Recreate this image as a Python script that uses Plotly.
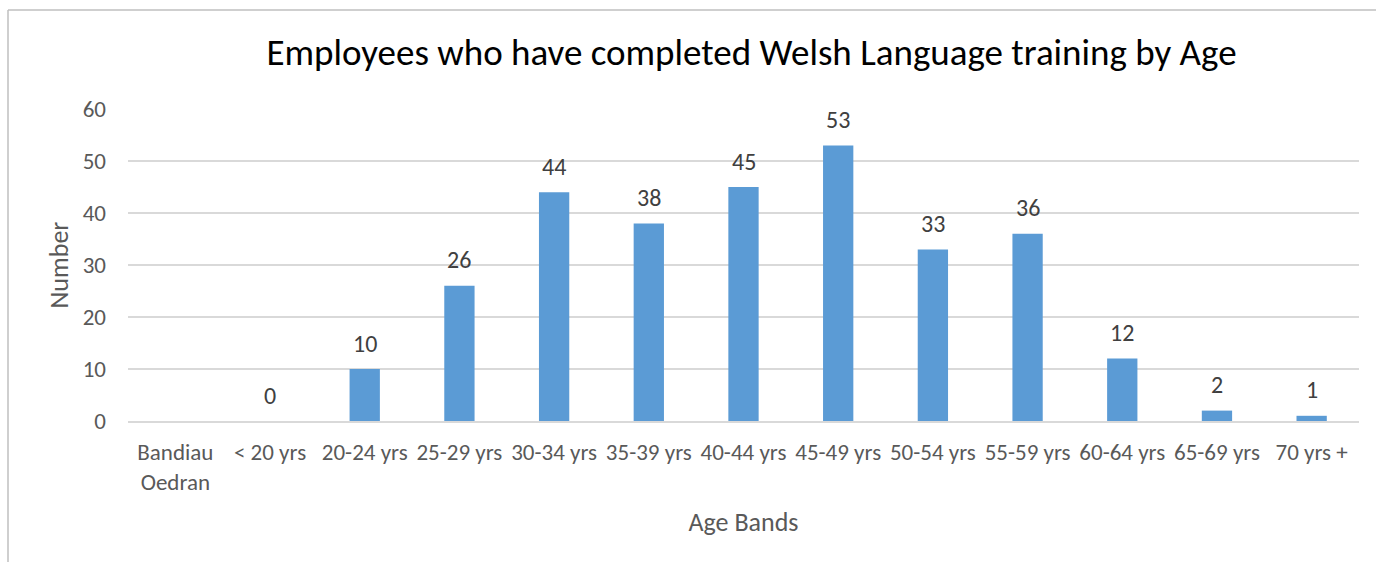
import plotly.graph_objects as go

categories = ["Bandiau<br>Oedran", "< 20 yrs", "20-24 yrs", "25-29 yrs", "30-34 yrs", "35-39 yrs",
              "40-44 yrs", "45-49 yrs", "50-54 yrs", "55-59 yrs", "60-64 yrs", "65-69 yrs", "70 yrs +"]
values = [None, 0, 10, 26, 44, 38, 45, 53, 33, 36, 12, 2, 1]
y_ticks = [0, 10, 20, 30, 40, 50, 60]

FONT = "Carlito, Calibri, Liberation Sans, sans-serif"
W, H = 1376, 562
L, R, T, B = 128, 17, 109, 141
pw, ph = W - L - R, H - T - B

fig = go.Figure()
fig.add_trace(go.Bar(x=categories, y=values, marker=dict(color="#5B9BD5", line=dict(width=0)),
                     hoverinfo="x+y"))

for c, v in zip(categories, values):
    if v is None:
        continue
    fig.add_annotation(x=c, y=v, text=str(v), showarrow=False, yshift=26,
                       font=dict(family=FONT, size=24, color="#404040"))

def px_x(p):
    return (p - L) / pw

def px_y(p):
    return (H - B - p) / ph

fig.add_shape(type="line", xref="paper", yref="paper", x0=px_x(8), x1=px_x(1376), y0=px_y(10), y1=px_y(10),
              line=dict(color="#BFBFBF", width=1.5))
fig.add_shape(type="line", xref="paper", yref="paper", x0=px_x(8), x1=px_x(8), y0=px_y(10), y1=px_y(562),
              line=dict(color="#BFBFBF", width=1.5))

fig.update_layout(
    width=W, height=H,
    margin=dict(l=L, r=R, t=T, b=B, autoexpand=False),
    paper_bgcolor="white", plot_bgcolor="white",
    bargap=0.68,
    showlegend=False,
    title=dict(text="Employees who have completed Welsh Language training by Age",
               x=(263 + 1240) / 2 / W, xanchor="center", y=1 - 52 / H, yanchor="middle",
               font=dict(family=FONT, size=37, color="#000000")),
    xaxis=dict(title=dict(text="Age Bands", font=dict(family=FONT, size=26, color="#595959"), standoff=18),
               tickfont=dict(family=FONT, size=23, color="#595959"),
               showgrid=False, showline=True, linecolor="#D9D9D9", linewidth=1.5,
               ticks="", ticklabelstandoff=10),
    yaxis=dict(title=dict(text="Number", font=dict(family=FONT, size=26, color="#595959"), standoff=6),
               range=[0, 60], tickvals=y_ticks, ticktext=[str(t) for t in y_ticks],
               tickfont=dict(family=FONT, size=23, color="#595959"),
               showgrid=True, gridcolor="#D9D9D9", gridwidth=1.5, zeroline=False,
               ticks="", ticklabelstandoff=21),
)

fig.write_html("out.html", config={"displayModeBar": False},
               post_script="document.body.style.margin='0';document.body.style.padding='0';")
